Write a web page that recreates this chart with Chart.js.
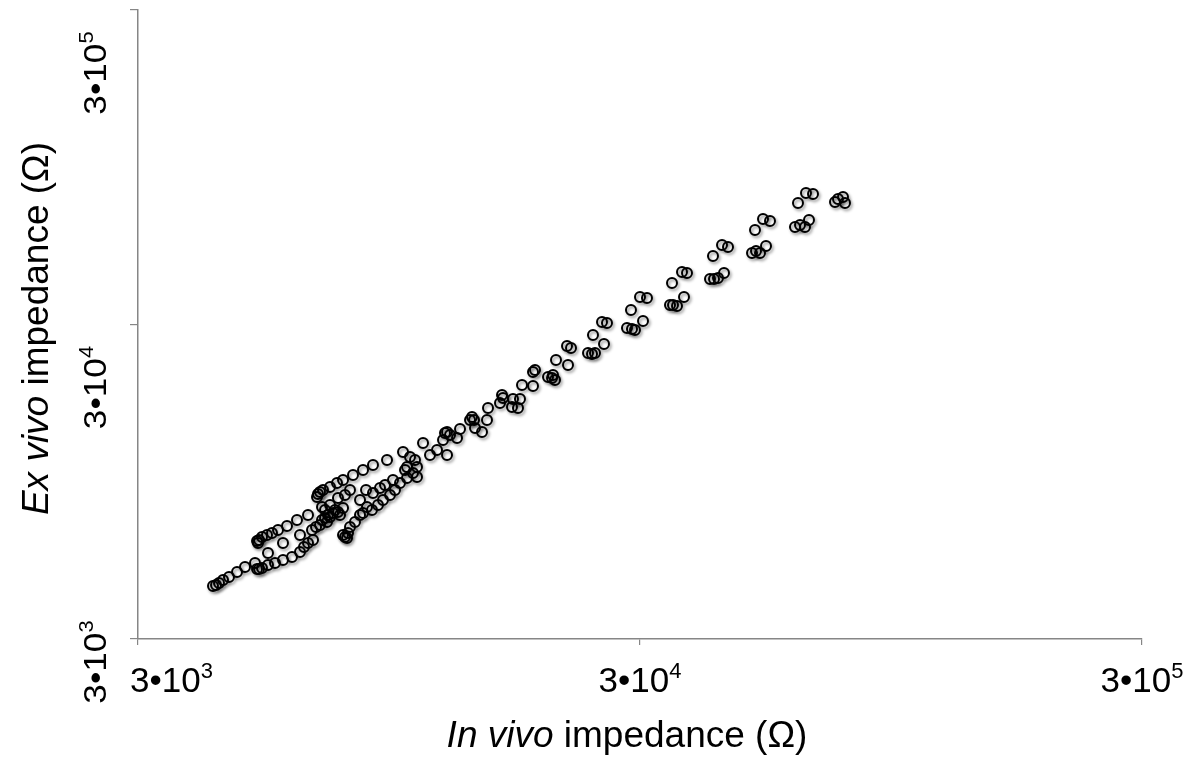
<!DOCTYPE html>
<html>
<head>
<meta charset="utf-8">
<script src="https://cdn.jsdelivr.net/npm/chart.js@4.4.1/dist/chart.umd.min.js"></script>
<style>
  body { margin: 0; background: #fff; }
  #wrap { width: 1196px; height: 759px; }
</style>
</head>
<body>
<div id="wrap"><canvas id="chart" width="1196" height="759"></canvas></div>
<script>
// impedance in Ohm: x = in vivo, y = ex vivo
const tailX = [4232, 4291, 4350, 4431, 4554, 4725, 4901, 5131, 5179, 5226, 5298, 5446, 5624, 5834, 6080, 6307, 6424, 6543, 6695];
const tailY = [4423, 4455, 4521, 4621, 4724, 4900, 5083, 5234, 5009, 5009, 5045, 5158, 5234, 5350, 5469, 5673, 5884, 6059, 6193];

const loopX = [5179, 5202, 5226, 5298, 5421, 5547, 5702, 5942, 6221, 6543, 5446, 5834, 6307, 6788, 6664];
const loopY = [6148, 6059, 6193, 6331, 6424, 6519, 6664, 6862, 7170, 7437, 5631, 6059, 6424, 6812, 6664];

const armX = [6819, 6850, 6913, 7009, 7238, 7474, 7683, 8043, 8421, 8815, 9401, 10117, 11089, 12266, 13140];
const armY = [8485, 8673, 8801, 8931, 9129, 9401, 9609, 9968, 10339, 10725, 11125, 11796, 12600, 13557, 13960];

const centerX = [6913, 6977, 7074, 7139, 7172, 7238, 7338, 7406, 7508, 7578, 7683, 7238, 7074, 6977, 7508, 7753, 7933];
const centerY = [6912, 7170, 7276, 7066, 7437, 7329, 7547, 7715, 7602, 7437, 7828, 8002, 7715, 7886, 8423, 8610, 8931];

const lowerX = [7683, 7753, 7825, 7861, 7933, 8117, 8306, 8421, 8576, 8775, 9020, 9229, 9531, 9752, 9978, 10304, 10787,
  8306, 8538, 8815, 9103, 9315, 9662, 10210, 10787, 11450, 11824, 12379, 12154];
const lowerY = [6424, 6331, 6285, 6519, 6812, 7066, 7437, 7547, 7886, 7715, 8002, 8301, 8610, 8931, 9401, 9751, 9823,
  8301, 8931, 8737, 9063, 9264, 9609, 10339, 10569, 11540, 11970, 11540, 12880];

const bandX = [10446, 10689, 10304, 10591, 12379, 12551, 12960, 13757, 13883, 14011, 14076, 14534, 14871, 14940, 15785, 15931, 16004,
  16678, 16755, 17143, 17301, 17461, 18365, 18365, 18534, 19673, 20037, 20315, 20129, 20408, 21563, 21464, 21862];
const bandY = [11372, 11125, 10569, 10115, 13656, 13359, 13069, 14910, 15241, 14910, 14062, 13656, 14910, 16279, 16886, 17905, 17516,
  16399, 17388, 16279, 17388, 19265, 19124, 21188, 21501, 20426, 20278, 19983, 20728, 23134, 22302, 25631, 25258];

const upperX = [23634, 24072, 24405, 24182, 25434, 25202, 25786, 28262, 28919, 29320, 30417, 28785, 30000, 30978,
  34426, 34903, 35549, 36709, 34743, 36374, 37218, 41359, 42125, 42905, 44102, 41931, 43700, 44919,
  50147, 51075, 52021, 53472, 50841, 52742, 54461, 61078, 62498, 63945, 65129, 61923, 64240, 66335,
  73379, 74395, 76121, 76823];
const upperY = [24350, 24173, 24350, 27780, 26009, 30554, 30331, 29241, 29028, 28816, 30779, 33360, 36691, 36424,
  34604, 34604, 34352, 36691, 40652, 44061, 43740, 41860, 41860, 42167, 43740, 49538, 53692, 52912,
  50638, 51385, 50638, 53301, 59924, 64949, 64006, 61254, 62158, 61254, 64475, 73022, 78568, 77995,
  73558, 75191, 76301, 73022];

const tickValues = [3000, 30000, 300000];
const tickBase = ['3•10', '3•10', '3•10'];
const tickExp = ['3', '4', '5'];

const FONT = '"Liberation Sans", Arial, sans-serif';
const GREY = '#868686';

function toPoints(xs, ys) {
  return xs.map((x, i) => ({ x: x, y: ys[i] }));
}

function series(xs, ys) {
  return {
    data: toPoints(xs, ys),
    pointStyle: 'circle',
    pointRadius: 5,
    pointBorderWidth: 2,
    pointBorderColor: '#000',
    pointBackgroundColor: 'rgba(0,0,0,0)',
    showLine: false
  };
}

// base text plus raised exponent, starting at x (or centred on it)
function drawPower(ctx, x, y, base, exp, size, centred) {
  const sup = Math.round(size * 0.63);
  ctx.font = size + 'px ' + FONT;
  const w1 = ctx.measureText(base).width;
  ctx.font = sup + 'px ' + FONT;
  const w2 = ctx.measureText(exp).width;
  const start = centred ? x - (w1 + w2) / 2 : x;
  ctx.textAlign = 'left';
  ctx.textBaseline = 'alphabetic';
  ctx.font = size + 'px ' + FONT;
  ctx.fillText(base, start, y);
  ctx.font = sup + 'px ' + FONT;
  ctx.fillText(exp, start + w1, y - size * 0.4);
}

function drawMixed(ctx, parts, size, cx, y) {
  let total = 0;
  parts.forEach(p => {
    ctx.font = (p.italic ? 'italic ' : '') + size + 'px ' + FONT;
    p.w = ctx.measureText(p.text).width;
    total += p.w;
  });
  let x = cx - total / 2;
  ctx.textAlign = 'left';
  ctx.textBaseline = 'alphabetic';
  parts.forEach(p => {
    ctx.font = (p.italic ? 'italic ' : '') + size + 'px ' + FONT;
    ctx.fillText(p.text, x, y);
    x += p.w;
  });
}

const markerShadow = {
  id: 'markerShadow',
  beforeDatasetsDraw(chart) {
    const c = chart.ctx;
    c.save();
    c.shadowColor = 'rgba(0,0,0,0.45)';
    c.shadowBlur = 3;
    c.shadowOffsetX = 1.5;
    c.shadowOffsetY = 2;
  },
  afterDatasetsDraw(chart) {
    chart.ctx.restore();
  }
};

const axisText = {
  id: 'axisText',
  afterDraw(chart) {
    const ctx = chart.ctx;
    const xs = chart.scales.x, ys = chart.scales.y, area = chart.chartArea;
    ctx.save();
    ctx.fillStyle = '#000';

    // x tick labels
    tickValues.forEach((v, i) => {
      const px = xs.getPixelForValue(v);
      if (i === 0) {
        drawPower(ctx, area.left - 8, 692, tickBase[i], tickExp[i], 35, false);
      } else {
        drawPower(ctx, px, 692, tickBase[i], tickExp[i], 35, true);
      }
    });

    // y tick labels, rotated
    tickValues.forEach((v, i) => {
      const py = Math.min(ys.getPixelForValue(v) + 63, 662);
      ctx.save();
      ctx.translate(106, py);
      ctx.rotate(-Math.PI / 2);
      ctx.scale(1.1, 1);
      drawPower(ctx, 0, 0, tickBase[i], tickExp[i], 32, true);
      ctx.restore();
    });

    // axis titles
    drawMixed(ctx, [{ text: 'In vivo', italic: true }, { text: ' impedance (Ω)' }], 37,
      (area.left + area.right) / 2 - 13, 747);

    ctx.save();
    ctx.translate(48, (area.top + area.bottom) / 2 + 4);
    ctx.rotate(-Math.PI / 2);
    drawMixed(ctx, [{ text: 'Ex vivo', italic: true }, { text: ' impedance (Ω)' }], 37, 0, 0);
    ctx.restore();

    ctx.restore();
  }
};

new Chart(document.getElementById('chart'), {
  type: 'scatter',
  data: {
    datasets: [
      series(tailX, tailY),
      series(loopX, loopY),
      series(armX, armY),
      series(centerX, centerY),
      series(lowerX, lowerY),
      series(bandX, bandY),
      series(upperX, upperY)
    ]
  },
  options: {
    responsive: false,
    animation: false,
    layout: { padding: { top: 10, right: 54, left: 0, bottom: 0 } },
    plugins: { legend: { display: false }, tooltip: { enabled: false } },
    scales: {
      x: {
        type: 'logarithmic',
        min: 3000,
        max: 300000,
        afterBuildTicks: s => { s.ticks = tickValues.map(v => ({ value: v })); },
        afterFit: s => { s.height = 120; },
        ticks: { display: false },
        grid: { drawOnChartArea: false, drawTicks: true, tickLength: 6, color: GREY, lineWidth: 1.2 },
        border: { color: GREY, width: 1.5 }
      },
      y: {
        type: 'logarithmic',
        min: 3000,
        max: 300000,
        afterBuildTicks: s => { s.ticks = tickValues.map(v => ({ value: v })); },
        afterFit: s => { s.width = 138; },
        ticks: { display: false },
        grid: { drawOnChartArea: false, drawTicks: true, tickLength: 8, color: GREY, lineWidth: 1.2 },
        border: { color: GREY, width: 1.5 }
      }
    }
  },
  plugins: [markerShadow, axisText]
});
</script>
</body>
</html>
